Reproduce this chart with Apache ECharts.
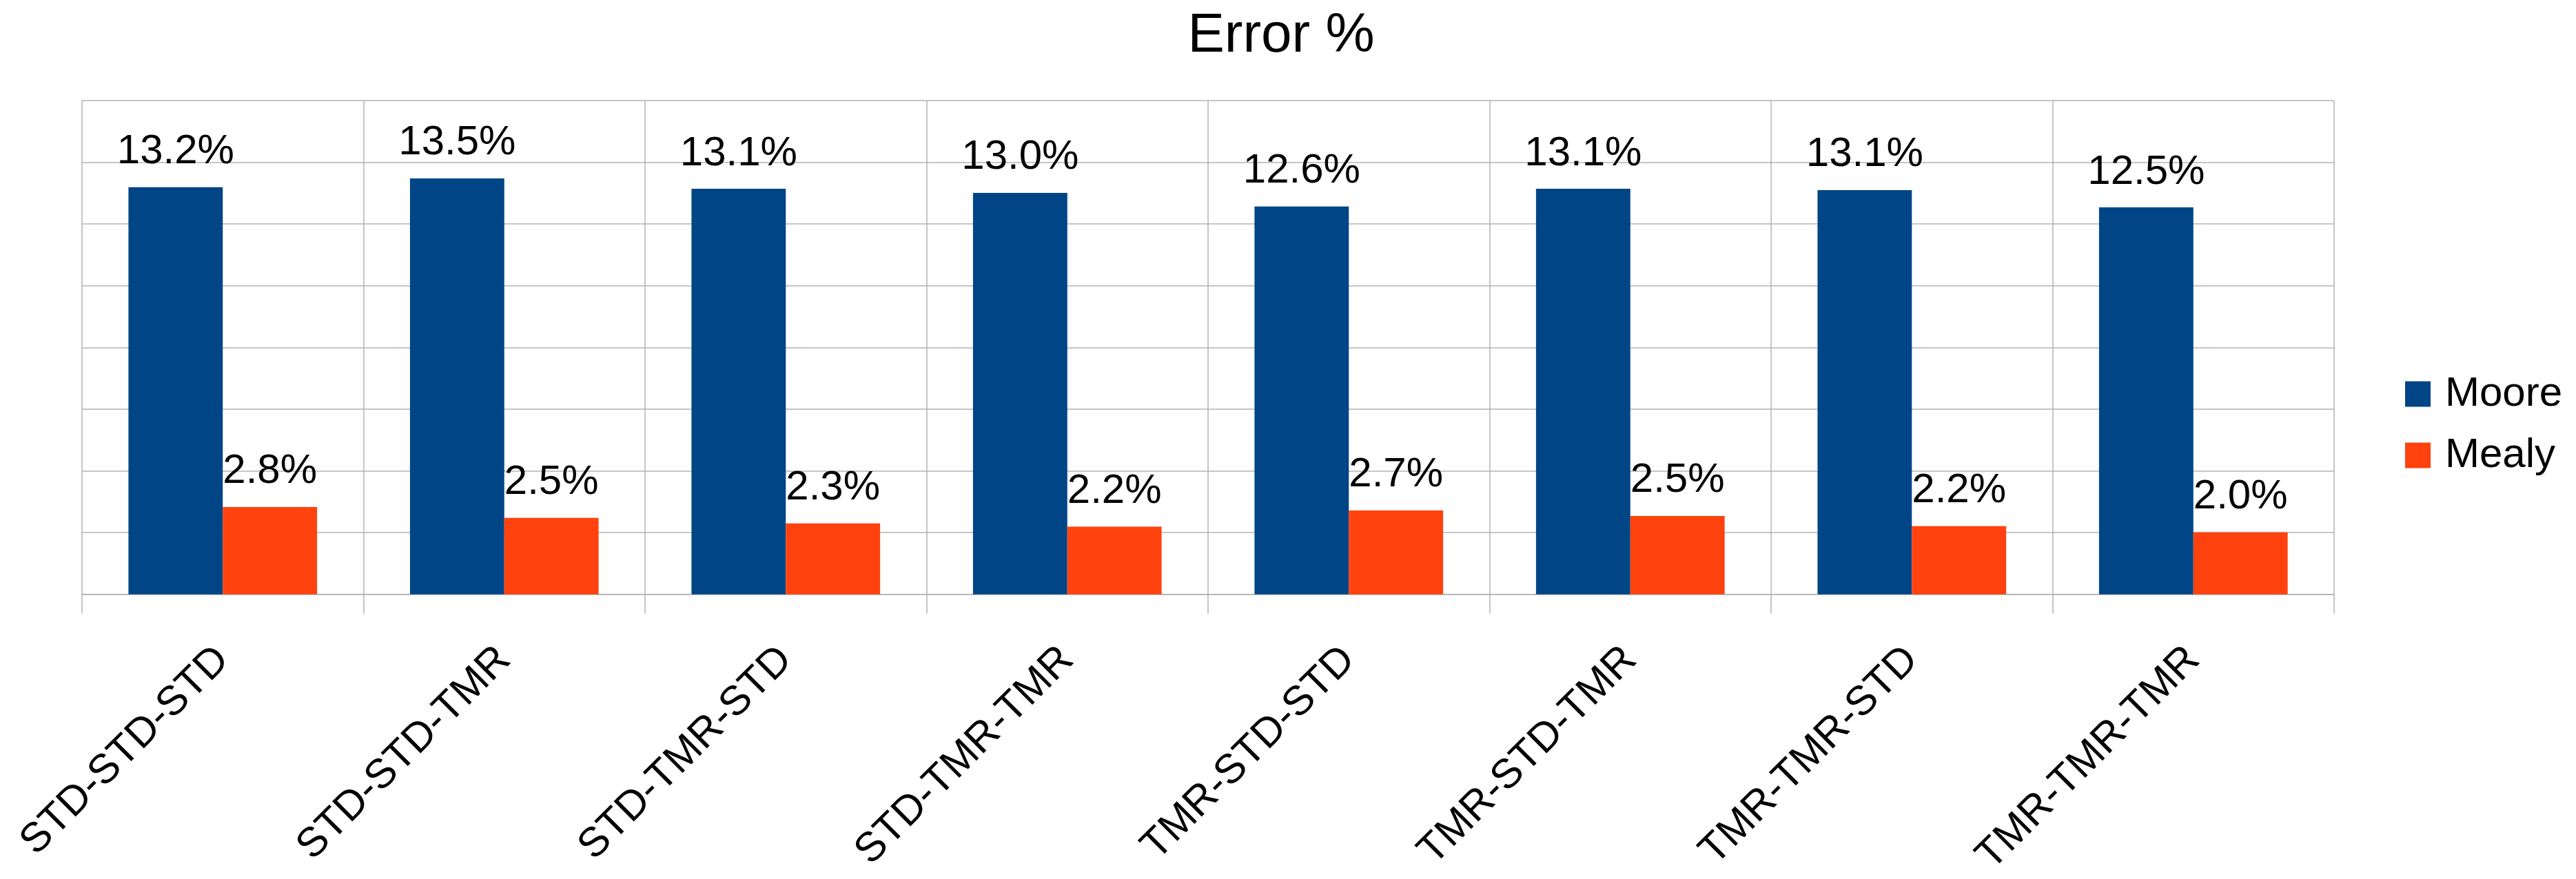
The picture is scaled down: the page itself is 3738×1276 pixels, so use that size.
<!DOCTYPE html>
<html>
<head>
<meta charset="utf-8">
<script src="https://cdn.jsdelivr.net/npm/echarts@6/dist/echarts.min.js"></script>
<style>
html,body{margin:0;padding:0;background:#fff;}
#chart{width:3738px;height:1276px;}
</style>
</head>
<body>
<div id="chart"></div>
<script>
const categories = ["STD-STD-STD","STD-STD-TMR","STD-TMR-STD","STD-TMR-TMR","TMR-STD-STD","TMR-STD-TMR","TMR-TMR-STD","TMR-TMR-TMR"];
const mooreValues = [13.19, 13.48, 13.14, 13.01, 12.57, 13.14, 13.10, 12.54];
const mealyValues = [2.83, 2.48, 2.30, 2.19, 2.72, 2.54, 2.21, 2.01];
const seriesNames = ["Moore", "Mealy"];
const titleText = "Error %";

const FONT = "'Liberation Sans', Arial, sans-serif";
const GRID = "#b3b3b3";
const chart = echarts.init(document.getElementById('chart'), null, {renderer: 'canvas'});
const labelCfg = {
  show: true, position: 'top', distance: 21,
  fontFamily: FONT, fontSize: 60, color: '#000',
  formatter: p => p.value.toFixed(1) + '%'
};
chart.setOption({
  animation: false,
  backgroundColor: '#fff',
  title: {
    text: titleText, left: 1854, top: 8, textAlign: 'center',
    textStyle: {fontFamily: FONT, fontSize: 80, fontWeight: 'normal', color: '#000'}
  },
  legend: {
    orient: 'vertical', left: 3485, top: 537,
    itemWidth: 37, itemHeight: 37, itemGap: 29,
    icon: 'rect',
    textStyle: {fontFamily: FONT, fontSize: 60, color: '#000', padding: [0,0,0,16]},
    data: seriesNames
  },
  grid: {left: 119, right: 351, top: 146, bottom: 407, containLabel: false},
  xAxis: {
    type: 'category', data: categories, boundaryGap: true,
    axisLine: {show: true, lineStyle: {color: GRID, width: 1.5}},
    axisTick: {show: true, length: 28, lineStyle: {color: GRID, width: 1.5}},
    splitLine: {show: true, lineStyle: {color: GRID, width: 1.5}},
    axisLabel: {rotate: 45, margin: 86, fontFamily: FONT, fontSize: 60, color: '#000', interval: 0}
  },
  yAxis: {
    type: 'value', min: 0, max: 16, interval: 2,
    axisLine: {show: false}, axisTick: {show: false}, axisLabel: {show: false},
    splitLine: {show: true, lineStyle: {color: GRID, width: 1.5}}
  },
  series: [
    {name: seriesNames[0], type: 'bar', data: mooreValues, itemStyle: {color: '#004586'},
     barGap: '0%', barCategoryGap: '33%', label: labelCfg},
    {name: seriesNames[1], type: 'bar', data: mealyValues, itemStyle: {color: '#ff420e'},
     barGap: '0%', barCategoryGap: '33%', label: labelCfg}
  ]
});
</script>
</body>
</html>
